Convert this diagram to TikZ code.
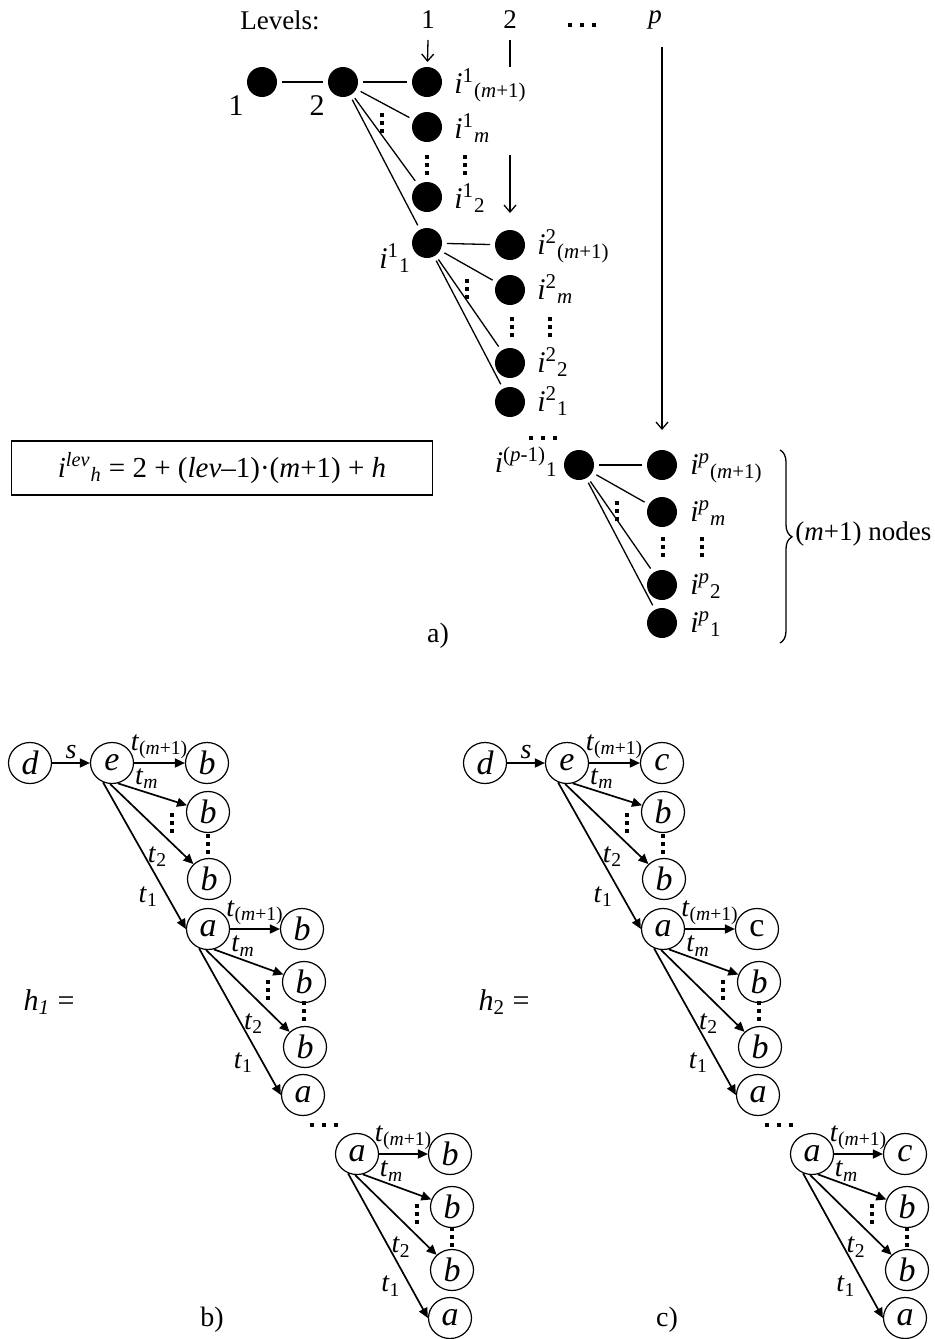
\documentclass[tikz,border=0pt]{standalone}
\usepackage{fontspec}
\setmainfont{Liberation Serif}
\usetikzlibrary{arrows.meta,shapes.geometric,decorations.pathreplacing}

\tikzset{
  blob/.style={circle,fill,inner sep=0pt,minimum size=15pt,outer sep=2.5pt},
  st/.style={ellipse,draw,line width=0.6pt,inner sep=0pt,minimum width=21.5pt,minimum height=20.5pt,
    font=\fontsize{17}{17}\selectfont\itshape},
  lbl/.style={font=\fontsize{15}{15}\selectfont,inner sep=0pt},
  elbl/.style={font=\fontsize{14}{14}\selectfont,inner sep=1.5pt},
  tl/.style={line width=0.65pt},
  ar/.style={line width=0.65pt,-{Straight Barb[length=3.5pt,width=6pt]}},
  tr/.style={line width=0.85pt,-{Triangle[length=5pt,width=4.5pt]}},
  vd/.style={line width=2pt,dash pattern=on 2pt off 2pt},
  hd/.style={line width=2.2pt,dash pattern=on 2.2pt off 3.8pt},
}

\begin{document}
\begin{tikzpicture}[x=0.5pt,y=-0.5pt,font=\fontsize{13.5}{15}\selectfont]
  \useasboundingbox (0,0) rectangle (935,1339);
  % a) numbering of the levels
  \node (lvl) at (280,20) {Levels:};
  \node (lv1) at (428,20) {1};
  \node (lv2) at (510,20) {2};
  \draw[hd] (568,25) -- (596,25);
  \node (lvp) at (655,20) {\textit{p}};
  \node[blob] (n1) at (262,82) {};
  \node[blob] (n2) at (343,82) {};
  \node[blob] (u1) at (427,82) {};
  \node[blob] (u2) at (427,127) {};
  \node[blob] (u3) at (427,197) {};
  \node[blob] (u4) at (427,243) {};
  \node[blob] (w1) at (510,245) {};
  \node[blob] (w2) at (510,290) {};
  \node[blob] (w3) at (510,363) {};
  \node[blob] (w4) at (510,402) {};
  \node[blob] (v0) at (579,465) {};
  \node[blob] (v1) at (662,465) {};
  \node[blob] (v2) at (662,512) {};
  \node[blob] (v3) at (662,585) {};
  \node[blob] (v4) at (662,623) {};
  \draw[tl] (n1) -- (n2);
  \draw[tl] (n2) -- (u1);
  \draw[tl] (n2) -- (u2);
  \draw[tl] (n2) -- (u3);
  \draw[tl] (n2) -- (u4);
  \draw[tl] (u4) -- (w1);
  \draw[tl] (u4) -- (w2);
  \draw[tl] (u4) -- (w3);
  \draw[tl] (u4) -- (w4);
  \draw[tl] (v0) -- (v1);
  \draw[tl] (v0) -- (v2);
  \draw[tl] (v0) -- (v3);
  \draw[tl] (v0) -- (v4);
  \node[lbl,anchor=base] at (236,115) {1};
  \node[lbl,anchor=base] at (317,115) {2};
  \node[lbl,anchor=base west] at (454,93) {\textit{i}\textsuperscript{1}\textsubscript{(\textit{m}+1)}};
  \node[lbl,anchor=base west] at (454,138) {\textit{i}\textsuperscript{1}\textsubscript{\textit{m}}};
  \node[lbl,anchor=base west] at (454,208) {\textit{i}\textsuperscript{1}\textsubscript{2}};
  \node[lbl,anchor=base east] at (411,268) {\textit{i}\textsuperscript{1}\textsubscript{1}};
  \node[lbl,anchor=base west] at (537,254) {\textit{i}\textsuperscript{2}\textsubscript{(\textit{m}+1)}};
  \node[lbl,anchor=base west] at (537,299) {\textit{i}\textsuperscript{2}\textsubscript{\textit{m}}};
  \node[lbl,anchor=base west] at (537,372) {\textit{i}\textsuperscript{2}\textsubscript{2}};
  \node[lbl,anchor=base west] at (537,411) {\textit{i}\textsuperscript{2}\textsubscript{1}};
  \node[lbl,anchor=base east] at (558,472) {\textit{i}\textsuperscript{(\textit{p}-1)}\textsubscript{1}};
  \node[lbl,anchor=base west] at (690,474) {\textit{i}\textsuperscript{\textit{p}}\textsubscript{(\textit{m}+1)}};
  \node[lbl,anchor=base west] at (690,521) {\textit{i}\textsuperscript{\textit{p}}\textsubscript{\textit{m}}};
  \node[lbl,anchor=base west] at (690,594) {\textit{i}\textsuperscript{\textit{p}}\textsubscript{2}};
  \node[lbl,anchor=base west] at (690,632) {\textit{i}\textsuperscript{\textit{p}}\textsubscript{1}};
  \draw[vd] (382,113) -- (382,133);
  \draw[vd] (427,155) -- (427,175);
  \draw[vd] (465,155) -- (465,175);
  \draw[vd] (467,279) -- (467,299);
  \draw[vd] (512,317) -- (512,337);
  \draw[vd] (550,317) -- (550,337);
  \draw[vd] (617,501) -- (617,521);
  \draw[vd] (663,537) -- (663,557);
  \draw[vd] (702,537) -- (702,557);
  \draw[hd] (529,438) -- (557,438);
  % level arrows
  \coordinate (ar1) at (428,40);
  \coordinate (ar2a) at (510,40);
  \coordinate (ar2b) at (510,67);
  \coordinate (ar2c) at (510,155);
  \coordinate (arp) at (662,47);
  \draw[ar] (ar1) -- (u1);
  \draw[tl] (ar2a) -- (ar2b);
  \draw[ar,shorten >=6pt] (ar2c) -- (w1);
  \draw[ar,shorten >=7.5pt] (arp) -- (v1);
  \draw[tl,decorate,decoration={brace,amplitude=6pt,aspect=0.45}] (780,450) -- (780,643);
  \node[font=\fontsize{13.5}{13.5}\selectfont,anchor=west,inner sep=0pt] (cnt) at (795,534) {(\textit{m}+1) nodes};
  \node[draw,line width=0.6pt,minimum width=210.5pt,minimum height=27pt,font=\fontsize{14.5}{14.5}\selectfont] (form) at (222,468)
    {\textit{i}\textsuperscript{\textit{lev}}\textsubscript{\textit{h}} = 2 + (\textit{lev}–1)·(\textit{m}+1) + \textit{h}};
  \node[font=\fontsize{14}{14}\selectfont] (capa) at (438,636) {a)};
  % b) and c) the two trees
  \foreach \p/\dx/\ta/\tb/\hn in {b/0/b/b/\textit{1}, c/455/c/\upshape c/2} {
    \begin{scope}[xshift=\dx*0.5pt]
      \node[font=\fontsize{15}{15}\selectfont] (\p h) at (49,1002) {\textit{h}\textsubscript{\hn} =};
      \node[font=\fontsize{14}{14}\selectfont] (\p cap) at (212,1320) {\p)};
      \node[st] (\p d) at (30,763) {d};
      \node[st] (\p e) at (112,763) {e};
      \node[st] (\p x1) at (207,763) {\ta};
      \node[st] (\p x2) at (208,812) {b};
      \node[st] (\p x3) at (209,879) {b};
      \node[st] (\p y0) at (208,929) {a};
      \node[st] (\p y1) at (302,929) {\tb};
      \node[st] (\p y2) at (304,982) {b};
      \node[st] (\p y3) at (305,1047) {b};
      \node[st] (\p z0) at (303,1095) {a};
      \node[st] (\p w0) at (357,1154) {a};
      \node[st] (\p w1) at (450,1154) {\ta};
      \node[st] (\p w2) at (452,1207) {b};
      \node[st] (\p w3) at (452,1270) {b};
      \node[st] (\p w4) at (450,1318) {a};
      \draw[tr] (\p d) -- node[elbl,above] {\textit{s}} (\p e);
      \draw[tr] (\p e) -- node[elbl,above] {\textit{t}\textsubscript{(\textit{m}+1)}} (\p x1);
      \draw[tr] (\p e.-74) -- node[elbl,pos=0.42,above] {\textit{t}\textsubscript{\textit{m}}} (\p x2);
      \draw[tr] (\p e.-95) -- node[elbl,pos=0.73,below left] {\textit{t}\textsubscript{2}} (\p x3);
      \draw[tr] (\p e.-115) -- node[elbl,pos=0.78,left=3pt] {\textit{t}\textsubscript{1}} (\p y0.west);
      \draw[tr] (\p y0) -- node[elbl,above] {\textit{t}\textsubscript{(\textit{m}+1)}} (\p y1);
      \draw[tr] (\p y0.-74) -- node[elbl,pos=0.42,above] {\textit{t}\textsubscript{\textit{m}}} (\p y2);
      \draw[tr] (\p y0.-95) -- node[elbl,pos=0.73,below left] {\textit{t}\textsubscript{2}} (\p y3);
      \draw[tr] (\p y0.-115) -- node[elbl,pos=0.78,left=3pt] {\textit{t}\textsubscript{1}} (\p z0.west);
      \draw[tr] (\p w0) -- node[elbl,above] {\textit{t}\textsubscript{(\textit{m}+1)}} (\p w1);
      \draw[tr] (\p w0.-74) -- node[elbl,pos=0.42,above] {\textit{t}\textsubscript{\textit{m}}} (\p w2);
      \draw[tr] (\p w0.-95) -- node[elbl,pos=0.73,below left] {\textit{t}\textsubscript{2}} (\p w3);
      \draw[tr] (\p w0.-115) -- node[elbl,pos=0.78,left=3pt] {\textit{t}\textsubscript{1}} (\p w4.west);
      \draw[vd] (172,813) -- (172,833);
      \draw[vd] (208,834) -- (208,854);
      \draw[vd] (268,980) -- (268,1000);
      \draw[vd] (304,1001) -- (304,1021);
      \draw[vd] (417,1204) -- (417,1224);
      \draw[vd] (452,1227) -- (452,1247);
      \draw[hd] (310,1125) -- (338,1125);
    \end{scope}
  }
\end{tikzpicture}
\end{document}
